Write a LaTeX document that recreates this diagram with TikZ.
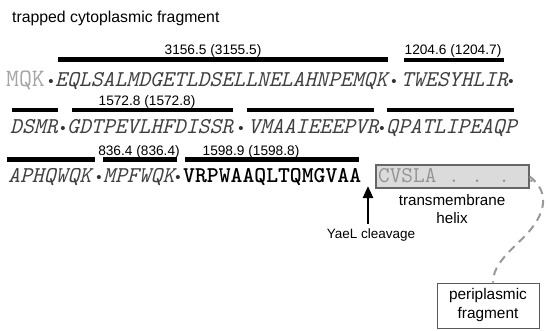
\documentclass[tikz,border=0pt]{standalone}
\usepackage{fontspec}
\setmainfont{Liberation Sans}
\usetikzlibrary{arrows.meta}
\tikzset{
  seq/.style={anchor=base west, inner sep=0pt, text=black!75,
    font=\ttfamily\itshape\fontsize{22.6}{23}\selectfont},
  seqgray/.style={anchor=base west, inner sep=0pt, text=black!35,
    font=\ttfamily\fontsize{22.6}{23}\selectfont},
  seqbold/.style={anchor=base west, inner sep=0pt, text=black,
    font=\ttfamily\bfseries\fontsize{22.6}{23}\selectfont},
  sep/.style={anchor=base, inner sep=0pt, text=black!80,
    font=\fontsize{15}{15}\selectfont},
  bar/.style={line width=4.5pt},
  mass/.style={anchor=base, inner sep=0pt, font=\fontsize{13.7}{14}\selectfont},
  lab/.style={inner sep=0pt, align=center, font=\fontsize{15.2}{17.5}\selectfont},
  tmbox/.style={draw=black!60, fill=black!14, line width=1.2pt, inner sep=0pt},
  peribox/.style={draw=black!65, line width=0.9pt, inner sep=0pt, align=center,
    font=\fontsize{15.4}{19}\selectfont},
  cutarrow/.style={line width=2.5pt, -{Triangle[width=10pt,length=12pt]}},
  linkcurve/.style={draw=black!40, line width=2pt, dash pattern=on 8pt off 6pt}
}
\begin{document}
\begin{tikzpicture}[x=1pt,y=-1pt]
\useasboundingbox (0,0) rectangle (548,330);
\fill[white] (0,0) rectangle (548,330);

% title
\node[anchor=base west, inner sep=0pt, font=\fontsize{15.8}{16}\selectfont] (title) at (12,22) {trapped cytoplasmic fragment};

% row 1
\node[mass] (m1) at (213,54) {3156.5 (3155.5)};
\node[mass] (m2) at (453,54) {1204.6 (1204.7)};
\draw[bar] (58,59.5) -- (388,59.5);
\draw[bar] (404,60) -- (504,60);
\node[seqgray, font=\ttfamily\fontsize{25}{25}\selectfont] (r1a) at (6,86) {MQK};
\node[sep] (s1a) at (51,86) {•};
\node[seq] (r1b) at (55,86) {EQLSALMDGETLDSELLNELAHNPEMQK};
\node[sep] (s1b) at (394,86) {•};
\node[seq] (r1c) at (401,86) {TWESYHLIR};
\node[sep] (s1c) at (511,86) {•};

% row 2
\node[mass] (m3) at (147,105) {1572.8 (1572.8)};
\draw[bar] (12,110) -- (58,110);
\draw[bar] (72,110) -- (233,110);
\draw[bar] (247,110) -- (374,110);
\draw[bar] (387,110) -- (514,110);
\node[seq] (r2a) at (10,133) {DSMR};
\node[sep] (s2a) at (63,133) {•};
\node[seq] (r2b) at (67,133) {GDTPEVLHFDISSR};
\node[sep] (s2b) at (241,133) {•};
\node[seq] (r2c) at (248,133) {VMAAIEEEPVR};
\node[sep] (s2c) at (382,133) {•};
\node[seq] (r2d) at (386,133) {QPATLIPEAQP};

% row 3
\node[mass] (m4) at (139,155) {836.4 (836.4)};
\node[mass] (m5) at (251,155) {1598.9 (1598.8)};
\draw[bar] (7,159.5) -- (95,159.5);
\draw[bar] (103,159.5) -- (177,159.5);
\draw[bar] (185,159.5) -- (359,159.5);
\node[seq] (r3a) at (8,182) {APHQWQK};
\node[sep] (s3a) at (99,182) {•};
\node[seq] (r3b) at (103,182) {MPFWQK};
\node[sep] (s3b) at (178,182) {•};
\node[seqbold] (r3c) at (183,182) {VRPWAAQLTQMGVAA};

% transmembrane helix box
\node[tmbox, minimum width=153pt, minimum height=23pt] (tm) at (452.5,176.5) {};
\node[seqgray, text=black!42] (tmtext) at (378,182) {CVSLA . . . .};
\node[lab] (tmlab) at (452,209) {transmembrane\\helix};

% cleavage arrow
\coordinate (cutbot) at (368,224);
\coordinate (cuttop) at (368,186);
\draw[cutarrow] (cutbot) -- (cuttop);
\node[anchor=base, inner sep=0pt, font=\fontsize{13.5}{14}\selectfont] (yael) at (371,238) {YaeL cleavage};

% periplasmic fragment
\node[peribox, minimum width=102pt, minimum height=45pt] (peri) at (488,305.5) {periplasmic\\fragment};
\draw[linkcurve] (tm.east) .. controls (550,192) and (547,214) .. (523,238)
  .. controls (502,258) and (493,268) .. ([xshift=5pt]peri.north);
\end{tikzpicture}
\end{document}
